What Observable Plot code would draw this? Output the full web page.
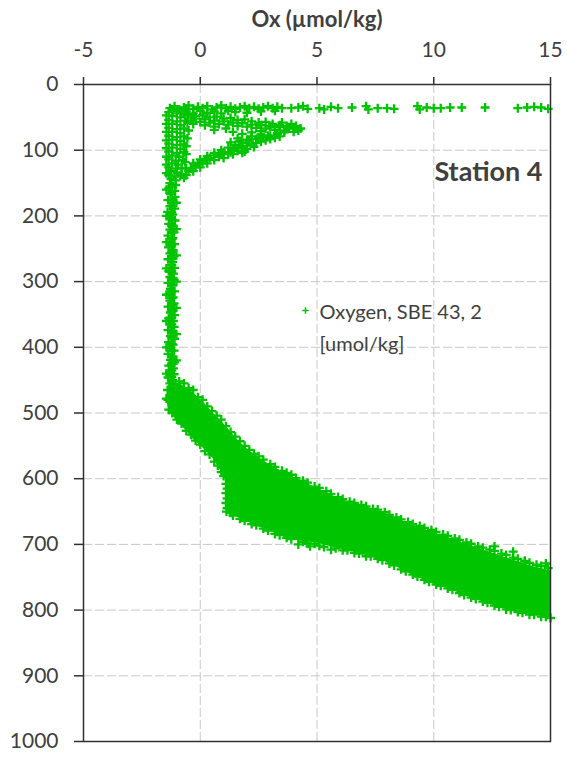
<!DOCTYPE html>
<html>
<head>
<meta charset="utf-8">
<script src="https://cdn.jsdelivr.net/npm/d3@7"></script>
<script src="https://cdn.jsdelivr.net/npm/@observablehq/plot@0.6"></script>
<style>
  html, body { margin: 0; padding: 0; background: #fff; }
  #chart svg { display: block; }
</style>
</head>
<body>
<div id="chart"></div>
<script>
// Oxygen profile, Station 4: Ox (µmol/kg) against depth
const xTicks = [-5, 0, 5, 10, 15];
const depthTicks = [0, 100, 200, 300, 400, 500, 600, 700, 800, 900, 1000];
const xGrid = [0, 5, 10];
const depthGrid = [100, 200, 300, 400, 500, 600, 700, 800, 900];

// [oxygen, depth] samples near the surface
const surface = [
  [-1.3,36],[-1.1,33],[-0.9,38],[-0.7,35],[-0.5,32],[-0.3,37],[-0.1,34],[0.1,36],[0.3,33],[0.5,38],
  [0.7,35],[0.9,32],[1.1,36],[1.3,34],[1.5,37],[1.7,35],[1.9,33],[2.1,36],[2.3,34],[2.5,37],
  [2.7,35],[2.9,33],[3.1,36],[3.3,34],[3.5,36],[-1.2,40],[-0.6,41],[0.0,40],[0.6,41],[1.2,40],
  [-0.8,43],[-0.3,44],[0.3,43],[0.9,44],[1.5,42],[2.0,43],[2.6,41],[3.2,40],
  [3.9,36],[4.2,35],[4.4,33],[4.6,37],[5.1,36],[5.3,38],[5.6,34],[5.9,36],[6.5,35],[7.1,33],
  [7.2,38],[7.6,36],[8.0,36],[8.3,37],[9.3,33],[9.4,38],[9.7,35],[10.0,36],[10.3,36],[10.7,35],
  [11.2,35],[12.2,35],[13.6,36],[14.0,35],[14.3,34],[14.6,35],[14.9,37]
];

// Upper water column: near-zero oxygen column with two intrusions
const upperColumn = [
  [-1.35,42],[-1.0,44],[-0.7,43],[-1.2,48],[-0.85,50],[-1.35,54],[-1.0,56],[-0.65,55],[-1.2,60],[-0.85,62],
  [-1.35,66],[-1.0,68],[-0.7,67],[-1.2,72],[-0.85,74],[-1.35,78],[-1.0,80],[-0.7,79],[-1.2,84],[-0.85,86],
  [-1.35,90],[-1.0,92],[-0.7,91],[-1.2,96],[-0.85,98],[-1.35,102],[-1.0,104],[-0.7,103],[-1.2,108],[-0.9,110],
  [-1.35,114],[-1.05,116],[-0.75,115],[-1.2,120],[-0.95,122],[-1.35,126],[-1.05,128],[-0.8,127],[-1.25,132],[-1.0,134],
  [-1.35,138],[-1.1,140],[-0.85,139],[-1.25,144],[-1.05,146],
  [-0.55,47],[-0.55,58],[-0.5,70],[-0.55,82],[-0.6,94],[-0.6,106],[-0.65,118],
  [-1.45,47],[-1.45,60],[-1.45,72],[-1.45,85],[-1.45,97],[-1.45,110],[-1.45,122],[-1.45,135],[-1.0,38],[-0.6,37]
];
const intrusionUpper = [
  [-0.5,46],[-0.2,48],[0.1,47],[0.4,50],[0.7,49],[1.0,52],[1.3,51],[1.6,54],[1.9,53],[2.2,56],
  [2.5,58],[2.8,57],[3.1,60],[3.4,62],[3.7,63],[4.0,66],[4.3,67],
  [-0.4,55],[0.0,57],[0.4,58],[0.8,60],[1.2,61],[1.6,63],[2.0,64],[2.4,66],[2.8,67],[3.2,69],[3.6,70],[4.0,72],
  [2.6,71],[3.0,64],[3.3,74],[2.2,73],
  [-0.2,52],[0.2,53],[0.6,55],[1.0,56],[1.4,58],[1.8,59],[2.2,61],[2.6,62],[3.0,63],[3.4,65],
  [3.8,67],[4.2,70],[3.9,60],[3.5,58],[4.1,63],[-0.3,60],[0.2,62],[0.6,64],
  [1.4,72],[1.8,75],[2.2,79],[1.6,82],[2.6,76],[2.9,78],[1.1,67],[0.6,69],[2.0,84],[1.3,88],[1.7,86],[2.5,81]
];
const intrusionLower = [
  [3.6,73],[3.3,76],[3.0,78],[2.7,80],[2.4,83],[2.1,86],[1.8,89],[1.5,92],[1.2,96],[0.9,100],
  [0.6,104],[0.3,109],[0.0,114],[-0.3,120],[-0.6,128],[-0.8,136],
  [3.2,81],[2.8,85],[2.4,89],[2.0,93],[1.6,97],[1.9,102],[1.3,103],[0.8,107],[0.4,112],[0.1,118],
  [-0.2,124],[-0.5,132],[-0.7,142],
  [3.4,79],[3.0,83],[2.6,87],[2.2,90],[1.8,94],[1.4,99],[1.0,103],[0.6,108],[0.2,115],[-0.1,121],
  [-0.4,128],[2.0,98],[1.6,101],[1.2,106],[0.8,110],[2.3,95],
  [-0.3,132],[0.0,126],[0.3,120],[0.6,115],[-0.6,138],[1.0,112],[1.4,106],[1.8,104]
];

// Anoxic layer
const column = [
  [-1.30,150],[-1.05,153],[-1.35,158],[-1.10,162],[-1.28,167],[-1.08,171],[-1.38,176],[-1.15,180],[-1.30,185],[-1.10,189],
  [-1.40,194],[-1.18,198],[-1.28,203],[-1.08,207],[-1.35,212],[-1.15,216],[-1.30,221],[-1.12,225],[-1.38,230],[-1.18,234],
  [-1.28,239],[-1.10,243],[-1.36,248],[-1.16,252],[-1.30,257],[-1.12,261],[-1.38,266],[-1.18,270],[-1.28,275],[-1.10,279],
  [-1.35,284],[-1.15,288],[-1.30,293],[-1.12,297],[-1.38,302],[-1.18,306],[-1.28,311],[-1.10,315],[-1.36,320],[-1.16,324],
  [-1.30,329],[-1.12,333],[-1.38,338],[-1.18,342],[-1.28,347],[-1.10,351],[-1.35,356],[-1.15,360],[-1.30,365],[-1.12,369],
  [-1.38,374],[-1.18,378],[-1.28,383],[-1.10,387],[-1.36,392],[-1.16,396],[-1.30,401],[-1.12,405],[-1.38,410],[-1.18,414],
  [-1.28,419],[-1.10,423],[-1.35,428],[-1.15,432],[-1.30,437],[-1.12,441],[-1.38,446],[-1.18,450],[-1.30,455],[-1.15,460],
  [-1.40,465],[-1.25,472],[-1.38,480],[-1.22,488],[-1.35,495],
  [-1.22,155],[-1.22,165],[-1.22,175],[-1.22,185],[-1.22,195],[-1.22,205],[-1.22,215],[-1.22,225],[-1.22,235],[-1.22,245],
  [-1.22,255],[-1.22,265],[-1.22,275],[-1.22,285],[-1.22,295],[-1.22,305],[-1.22,315],[-1.22,325],[-1.22,335],[-1.22,345],
  [-1.22,355],[-1.22,365],[-1.22,375],[-1.22,385],[-1.22,395],[-1.22,405],[-1.22,415],[-1.22,425],[-1.22,435],[-1.22,445],
  [-1.45,160],[-1.45,200],[-1.45,240],[-1.45,280],[-1.45,320],[-1.45,360],[-1.45,400],[-1.45,440],[-1.45,478],
  [-1.02,180],[-1.02,220],[-1.02,260],[-1.02,300],[-1.02,340],[-1.02,380],[-1.02,420]
];

// Deep oxycline: envelope of the dense sample cloud
const bandX      = [-1.35,-1.0,-0.6,-0.3,0.2,0.6,0.9,1.15,1.17,1.6,2.1,2.5,3.0,3.5,3.9,4.5,5.0,5.5,6.0,6.5,7.0,7.8,8.5,9.0,9.9,10.5,11.0,11.5,12.0,12.5,13.0,13.5,14.0,14.5,15.0];
const bandTop    = [448,454,461,469,486,502,513,522,523,541,558,568,579,589,596,606,614,623,631,637,642,650,662,669,681,688,695,701,707,713,719,725,731,736,740];
const bandBottom = [497,512,527,540,556,571,590,606,652,659,667,673,680,688,693,696,698,703,707,711,716,724,736,745,759,766,773,780,786,792,798,802,806,809,811];

// Samples along the fringes of the deep cloud
const bandUpperEdge = [
  [-0.9,452],[-0.5,462],[-0.1,476],[0.3,490],[0.7,504],[1.1,520],[1.5,536],[1.9,550],[2.3,562],[2.7,571],
  [3.2,582],[3.7,591],[4.1,599],[4.6,606],[5.1,614],[5.6,623],[6.1,631],[6.6,637],[7.1,642],[7.6,647],
  [8.1,655],[8.6,662],[9.1,669],[9.6,675],[10.1,681],[10.6,687],[11.1,693],[11.6,699],[12.1,705],[12.6,710],
  [13.1,716],[13.6,722],[14.1,728],[14.6,733],[14.9,736],[12.6,703],[13.4,711],[13.9,726],[14.8,729],
  [-0.7,455],[-0.3,465],[0.1,480],[0.5,497],[0.9,510],[1.3,529],[1.7,543],[2.1,556],[2.5,566],[3.0,578],
  [3.5,588],[3.9,594],[4.4,603],[4.9,612],[5.4,619],[5.9,628],[6.4,635],[6.9,640],[7.4,646],[7.9,651],
  [8.4,659],[8.9,666],[9.4,672],[9.9,678],[10.4,685],[10.9,691],[11.4,697],[11.9,703],[12.4,708],[12.9,714],
  [13.4,720],[13.9,725],[14.4,731]
];
const bandLowerEdge = [
  [-1.2,500],[-0.8,516],[-0.4,533],[0.0,548],[0.4,563],[0.75,580],[1.0,596],[1.15,615],[1.15,630],[1.15,645],
  [1.4,656],[1.9,664],[2.4,671],[2.9,679],[3.4,686],[3.9,692],[4.4,696],[4.9,699],[4.7,703],[5.3,704],
  [5.8,706],[6.3,709],[6.8,714],[7.3,718],[7.8,724],[8.3,732],[8.8,741],[9.3,749],[9.8,757],[10.3,763],
  [10.8,769],[11.3,777],[11.8,783],[12.3,789],[12.8,795],[13.3,800],[13.8,804],[14.3,807],[14.8,810],[4.2,700],[5.6,708],
  [-1.0,510],[-0.6,527],[-0.2,542],[0.2,558],[0.6,574],[0.9,590],[1.3,652],[1.7,661],[2.2,669],[2.7,676],
  [3.2,684],[3.7,690],[4.6,699],[5.1,702],[6.1,709],[6.6,713],[7.1,718],[7.6,722],[8.1,729],[8.6,738],
  [9.1,746],[9.6,754],[10.1,761],[10.6,767],[11.1,774],[11.6,781],[12.1,787],[12.6,793],[13.1,799],[13.6,803],
  [14.1,807],[14.6,810],[15.0,812],[1.1,608],[1.1,622],[1.1,637],[1.12,650]
];

const green = "#00c400";
const ink = "#404040";
const samples = [...surface, ...upperColumn, ...intrusionUpper, ...intrusionLower, ...column, ...bandUpperEdge, ...bandLowerEdge];
const band = bandX.map((x, i) => ({x, top: bandTop[i], bottom: bandBottom[i]}));

const chart = Plot.plot({
  width: 567,
  height: 757,
  marginTop: 84,
  marginLeft: 83,
  marginRight: 17,
  marginBottom: 16,
  style: {fontFamily: "Lato, 'Open Sans', sans-serif", fontSize: "21px", color: ink, background: "#fff"},
  x: {domain: [-5, 15]},
  y: {domain: [0, 1000], reverse: true},
  marks: [
    Plot.gridX(xGrid, {stroke: "#c8c8c8", strokeOpacity: 1, strokeDasharray: "9,3"}),
    Plot.gridY(depthGrid, {stroke: "#c8c8c8", strokeOpacity: 1, strokeDasharray: "9,3"}),
    Plot.areaY(band, {x: "x", y1: "top", y2: "bottom", fill: green, curve: "linear"}),
    Plot.dot(samples, {x: d => d[0], y: d => d[1], symbol: "plus", r: 3.0, stroke: green, strokeWidth: 2.3}),
    Plot.frame({stroke: "#303030", strokeWidth: 1.5}),
    Plot.axisX(xTicks, {anchor: "top", tickSize: 8, tickPadding: 20, label: null, tickFormat: d => String(d), fontSize: 21, stroke: "#303030", strokeWidth: 1.5}),
    Plot.axisY(depthTicks, {anchor: "left", tickSize: 9, tickPadding: 16, label: null, tickFormat: d => String(d), fontSize: 21, stroke: "#303030", strokeWidth: 1.5}),
    Plot.text(["Ox (µmol/kg)"], {frameAnchor: "top", dy: -65, fontWeight: "bold", fontSize: 22, lineAnchor: "middle", fill: ink}),
    Plot.text(["Station 4"], {frameAnchor: "top-right", dx: -8, dy: 88, textAnchor: "end", fontWeight: "bold", fontSize: 27, lineAnchor: "middle", fill: ink}),
    Plot.dot([0], {frameAnchor: "top-left", dx: 222, dy: 226, symbol: "plus", r: 2.2, stroke: green, strokeWidth: 1.5}),
    Plot.text(["Oxygen, SBE 43, 2"], {frameAnchor: "top-left", dx: 236, dy: 228, textAnchor: "start", lineAnchor: "middle", fontSize: 20, fill: ink}),
    Plot.text(["[umol/kg]"], {frameAnchor: "top-left", dx: 236, dy: 260, textAnchor: "start", lineAnchor: "middle", fontSize: 20, fill: ink})
  ]
});
document.getElementById("chart").appendChild(chart);
</script>
</body>
</html>
